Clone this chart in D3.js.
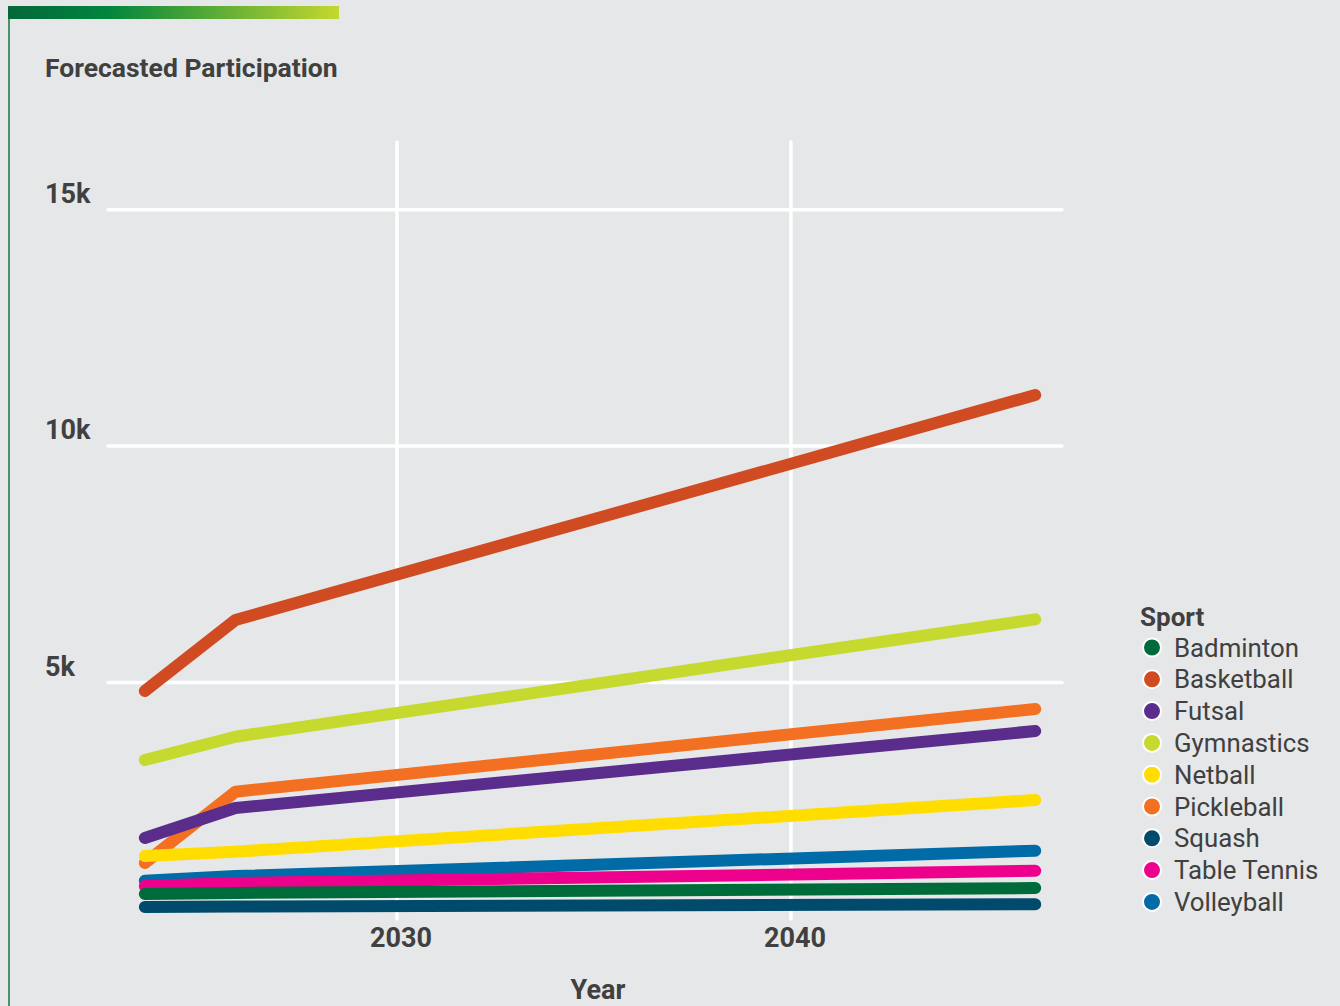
<!DOCTYPE html>
<html>
<head>
<meta charset="utf-8">
<script src="https://cdn.jsdelivr.net/npm/d3@7"></script>
<style>
  html, body { margin: 0; padding: 0; background: #e6e7e8; }
  svg { display: block; font-family: Roboto, "Noto Sans", sans-serif; }
</style>
</head>
<body>
<svg id="chart" width="1340" height="1006"></svg>
<script>
// ---- data ----
const sports = ["Badminton","Basketball","Futsal","Gymnastics","Netball","Pickleball","Squash","Table Tennis","Volleyball"];
const colors = ["#006b3a","#d04a22","#5a2d8c","#c5d92f","#ffdd00","#f36f21","#004b6b","#ec008c","#006ba6"];
const years = [2023.6, 2025.9, 2046.2];
const badminton   = [529, 550, 655];
const basketball  = [4821, 6323, 11080];
const futsal      = [1713, 2347, 3975];
const gymnastics  = [3362, 3855, 6337];
const netball     = [1332, 1423, 2516];
const pickleball  = [1184, 2692, 4440];
const squash      = [254, 264, 311];
const tableTennis = [698, 761, 1021];
const volleyball  = [810, 907, 1444];
const seriesValues = [badminton, basketball, futsal, gymnastics, netball, pickleball, squash, tableTennis, volleyball];
const xTicks = [2030, 2040];
const yTicks = [5000, 10000, 15000];
const yTickLabels = ["5k", "10k", "15k"];

const svg = d3.select("#chart");
const textColor = "#404040";

// decorations
const defs = svg.append("defs");
const grad = defs.append("linearGradient").attr("id", "topbar").attr("x1", "0%").attr("x2", "100%");
grad.append("stop").attr("offset", "0%").attr("stop-color", "#04673a");
grad.append("stop").attr("offset", "30%").attr("stop-color", "#00853e");
grad.append("stop").attr("offset", "100%").attr("stop-color", "#c4d82e");
svg.append("rect").attr("x", 8).attr("y", 6).attr("width", 331).attr("height", 13).attr("fill", "url(#topbar)");
svg.append("rect").attr("x", 8).attr("y", 19).attr("width", 2).attr("height", 990).attr("fill", "#4a936a");

svg.append("text").attr("x", 45).attr("y", 77)
  .attr("font-size", 26.5).attr("font-weight", 700).attr("fill", textColor)
  .text("Forecasted Participation");

// scales
const x = d3.scaleLinear().domain([2022.665, 2046.88]).range([108, 1062]);
const y = d3.scaleLinear().domain([0, 16430]).range([919, 142]);

// grid
const grid = svg.append("g");
grid.selectAll("line.h").data(yTicks).join("line")
  .attr("x1", x.range()[0]).attr("x2", x.range()[1])
  .attr("y1", d => y(d)).attr("y2", d => y(d))
  .attr("stroke", "#ffffff").attr("stroke-width", 3.5).attr("stroke-linecap", "round");
grid.selectAll("line.v").data(xTicks).join("line")
  .attr("x1", d => x(d)).attr("x2", d => x(d))
  .attr("y1", y.range()[1]).attr("y2", y(0))
  .attr("stroke", "#ffffff").attr("stroke-width", 3.5).attr("stroke-linecap", "round");

// y tick labels
svg.append("g").selectAll("text").data(yTicks).join("text")
  .attr("x", 45).attr("y", d => y(d) - 7)
  .attr("font-size", 27).attr("font-weight", 700).attr("fill", textColor)
  .text((d, i) => yTickLabels[i]);

// x tick labels
svg.append("g").selectAll("text").data(xTicks).join("text")
  .attr("x", d => x(d) + 4).attr("y", 947)
  .attr("text-anchor", "middle")
  .attr("font-size", 27).attr("font-weight", 700).attr("fill", textColor)
  .text(d => d3.format("d")(d));

svg.append("text").attr("x", 598).attr("y", 999)
  .attr("text-anchor", "middle")
  .attr("font-size", 27).attr("font-weight", 700).attr("fill", textColor)
  .text("Year");

// lines (drawn in reverse legend order)
const line = d3.line().x((d, i) => x(years[i])).y(d => y(d));
const order = d3.range(sports.length).reverse();
svg.append("g").selectAll("path").data(order).join("path")
  .attr("d", i => line(seriesValues[i]))
  .attr("fill", "none")
  .attr("stroke", i => colors[i])
  .attr("stroke-width", 12)
  .attr("stroke-linecap", "round")
  .attr("stroke-linejoin", "round");

// legend
const lg = svg.append("g");
lg.append("text").attr("x", 1140).attr("y", 626)
  .attr("font-size", 26).attr("font-weight", 700).attr("fill", textColor)
  .text("Sport");
const items = lg.selectAll("g.item").data(sports).join("g")
  .attr("transform", (d, i) => `translate(0, ${647.5 + i * 31.8})`);
items.append("circle").attr("cx", 1152).attr("cy", 0).attr("r", 9)
  .attr("fill", (d, i) => colors[i]).attr("stroke", "#ffffff").attr("stroke-width", 2);
items.append("text").attr("x", 1174).attr("y", 9)
  .attr("font-size", 25.8).attr("fill", textColor)
  .text(d => d);
</script>
</body>
</html>
